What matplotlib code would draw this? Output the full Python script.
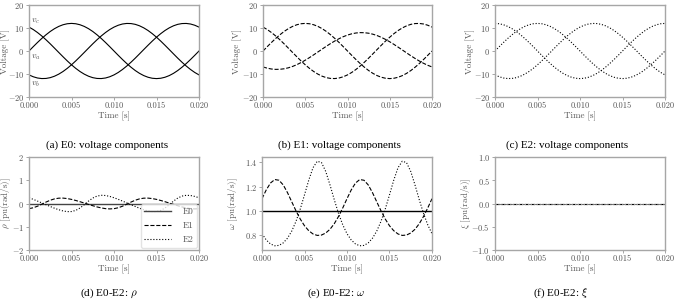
import matplotlib
matplotlib.use("Agg")
import matplotlib.pyplot as plt

plt.rcParams['font.family'] = ['cmr10', 'DejaVu Serif']
plt.rcParams['mathtext.fontset'] = 'cm'
plt.rcParams['axes.formatter.use_mathtext'] = True
plt.rcParams['axes.unicode_minus'] = True

# time samples [s]
t = [0.0000, 0.0005, 0.0010, 0.0015, 0.0020, 0.0025, 0.0030, 0.0035, 0.0040, 0.0045,
     0.0050, 0.0055, 0.0060, 0.0065, 0.0070, 0.0075, 0.0080, 0.0085, 0.0090, 0.0095,
     0.0100, 0.0105, 0.0110, 0.0115, 0.0120, 0.0125, 0.0130, 0.0135, 0.0140, 0.0145,
     0.0150, 0.0155, 0.0160, 0.0165, 0.0170, 0.0175, 0.0180, 0.0185, 0.0190, 0.0195,
     0.0200]

# phase a (same in E0, E1, E2)
va = [0.00, 1.88, 3.71, 5.45, 7.05, 8.49, 9.71, 10.69, 11.41, 11.85,
      12.00, 11.85, 11.41, 10.69, 9.71, 8.49, 7.05, 5.45, 3.71, 1.88,
      0.00, -1.88, -3.71, -5.45, -7.05, -8.49, -9.71, -10.69, -11.41, -11.85,
      -12.00, -11.85, -11.41, -10.69, -9.71, -8.49, -7.05, -5.45, -3.71, -1.88,
      0.00]
# phase b (E0, E2)
vb = [-10.39, -11.20, -11.74, -11.98, -11.93, -11.59, -10.96, -10.06, -8.92, -7.55,
      -6.00, -4.30, -2.49, -0.63, 1.25, 3.11, 4.88, 6.54, 8.03, 9.33,
      10.39, 11.20, 11.74, 11.98, 11.93, 11.59, 10.96, 10.06, 8.92, 7.55,
      6.00, 4.30, 2.49, 0.63, -1.25, -3.11, -4.88, -6.54, -8.03, -9.33,
      -10.39]
# phase c (E0, E1)
vc = [10.39, 9.33, 8.03, 6.54, 4.88, 3.11, 1.25, -0.63, -2.49, -4.30,
      -6.00, -7.55, -8.92, -10.06, -10.96, -11.59, -11.93, -11.98, -11.74, -11.20,
      -10.39, -9.33, -8.03, -6.54, -4.88, -3.11, -1.25, 0.63, 2.49, 4.30,
      6.00, 7.55, 8.92, 10.06, 10.96, 11.59, 11.93, 11.98, 11.74, 11.20,
      10.39]
# E1: reduced phase b
vb_e1 = [-6.93, -7.47, -7.83, -7.99, -7.95, -7.73, -7.31, -6.71, -5.95, -5.03,
         -4.00, -2.87, -1.66, -0.42, 0.83, 2.07, 3.25, 4.36, 5.35, 6.22,
         6.93, 7.47, 7.83, 7.99, 7.95, 7.73, 7.31, 6.71, 5.95, 5.03,
         4.00, 2.87, 1.66, 0.42, -0.83, -2.07, -3.25, -4.36, -5.35, -6.22,
         -6.93]
# E2: shifted phase c
vc_e2 = [12.00, 11.85, 11.41, 10.69, 9.71, 8.49, 7.05, 5.45, 3.71, 1.88,
         0.00, -1.88, -3.71, -5.45, -7.05, -8.49, -9.71, -10.69, -11.41, -11.85,
         -12.00, -11.85, -11.41, -10.69, -9.71, -8.49, -7.05, -5.45, -3.71, -1.88,
         0.00, 1.88, 3.71, 5.45, 7.05, 8.49, 9.71, 10.69, 11.41, 11.85,
         12.00]

rho_e0 = [0.0] * len(t)
rho_e1 = [-0.222, -0.183, -0.117, -0.031, 0.061, 0.141, 0.199, 0.229, 0.232, 0.212,
          0.177, 0.130, 0.077, 0.019, -0.039, -0.095, -0.147, -0.190, -0.221, -0.233,
          -0.222, -0.183, -0.117, -0.031, 0.061, 0.141, 0.199, 0.229, 0.232, 0.212,
          0.177, 0.130, 0.077, 0.019, -0.039, -0.095, -0.147, -0.190, -0.221, -0.233,
          -0.222]
rho_e2 = [0.247, 0.179, 0.104, 0.026, -0.052, -0.129, -0.203, -0.268, -0.320, -0.350,
          -0.346, -0.297, -0.195, -0.052, 0.103, 0.234, 0.319, 0.352, 0.344, 0.305,
          0.247, 0.179, 0.104, 0.026, -0.052, -0.129, -0.203, -0.268, -0.320, -0.350,
          -0.346, -0.297, -0.195, -0.052, 0.103, 0.234, 0.319, 0.352, 0.344, 0.305,
          0.247]

omega_e0 = [1.0] * len(t)
omega_e1 = [1.099, 1.172, 1.229, 1.258, 1.252, 1.213, 1.149, 1.073, 0.998, 0.930,
            0.874, 0.833, 0.806, 0.794, 0.797, 0.814, 0.845, 0.891, 0.951, 1.022,
            1.099, 1.172, 1.229, 1.258, 1.252, 1.213, 1.149, 1.073, 0.998, 0.930,
            0.874, 0.833, 0.806, 0.794, 0.797, 0.814, 0.845, 0.891, 0.951, 1.022,
            1.099]
omega_e2 = [0.808, 0.756, 0.723, 0.708, 0.711, 0.732, 0.771, 0.830, 0.911, 1.013,
            1.131, 1.253, 1.356, 1.410, 1.399, 1.325, 1.213, 1.091, 0.977, 0.882,
            0.808, 0.756, 0.723, 0.708, 0.711, 0.732, 0.771, 0.830, 0.911, 1.013,
            1.131, 1.253, 1.356, 1.410, 1.399, 1.325, 1.213, 1.091, 0.977, 0.882,
            0.808]

xi_e0 = [0.0] * len(t)
xi_e1 = [0.0] * len(t)
xi_e2 = [0.0] * len(t)

captions = ["(a) E0: voltage components", "(b) E1: voltage components",
            "(c) E2: voltage components", r"(d) E0-E2: $\rho$",
            r"(e) E0-E2: $\omega$", r"(f) E0-E2: $\xi$"]

W, H = 675, 304
TXT = '#555555'
SPINE = '#a6a6a6'
FS = 6.0      # tick labels
LFS = 6.5     # axis labels


def make_ax(fig, left, top, right, bottom, ylab_x):
    ax = fig.add_axes([left / W, 1 - bottom / H, (right - left) / W, (bottom - top) / H])
    for s in ax.spines.values():
        s.set_color(SPINE)
        s.set_linewidth(1.0)
    ax.tick_params(colors=SPINE, labelcolor=TXT, labelsize=FS, length=2.5, width=0.7, pad=1)
    ax.set_xlim(0, 0.02)
    ax.set_xticks([0.0, 0.005, 0.01, 0.015, 0.02])
    ax.set_xticklabels(["0.000", "0.005", "0.010", "0.015", "0.020"])
    ax.set_xlabel("Time [s]", fontsize=LFS, color=TXT, labelpad=1)
    # right edge of the y label, in pixels from the figure's left
    ax.yaxis.set_label_coords((ylab_x - left) / (right - left), 0.5)
    return ax


fig = plt.figure(figsize=(W / 100, H / 100), dpi=100)
lw = 0.8

# voltage panels
cols = [(29, 199, 10), (263, 432, 242), (495, 665, 475)]
volt_sets = [(va, vb, vc, '-'), (va, vb_e1, vc, '--'), (va, vb, vc_e2, ':')]
for (l, r, yl), (a, b, c, ls) in zip(cols, volt_sets):
    ax = make_ax(fig, l, 5, r, 97, yl)
    for y in (a, b, c):
        ax.plot(t, y, color='black', linestyle=ls, linewidth=lw)
    ax.set_ylim(-20, 20)
    ax.set_yticks([-20, -10, 0, 10, 20])
    ax.set_ylabel("Voltage [V]", fontsize=LFS, color=TXT)
    if ls == '-':
        ax.text(0.00025, 12.8, r"$v_c$", fontsize=LFS, color=TXT, va='center')
        ax.text(0.00025, -2.5, r"$v_a$", fontsize=LFS, color=TXT, va='center')
        ax.text(0.00025, -14.5, r"$v_b$", fontsize=LFS, color=TXT, va='center')

# rho
ax = make_ax(fig, 29, 157, 199, 250, 13)
ax.plot(t, rho_e0, color='#444444', linestyle='-', linewidth=1.0, label='E0')
ax.plot(t, rho_e1, color='black', linestyle='--', linewidth=lw, label='E1')
ax.plot(t, rho_e2, color='black', linestyle=':', linewidth=lw, label='E2')
ax.set_ylim(-2, 2)
ax.set_yticks([-2, -1, 0, 1, 2])
ax.set_ylabel(r"$\rho$ [pu(rad/s)]", fontsize=LFS, color=TXT)
leg = ax.legend(loc='lower right', fontsize=LFS, handlelength=3.0, framealpha=0.8,
                edgecolor='#dddddd', borderaxespad=0.25, labelspacing=0.6,
                handletextpad=1.2)
for txt in leg.get_texts():
    txt.set_color(TXT)

# omega
ax = make_ax(fig, 262, 157, 432, 250, 240)
ax.plot(t, omega_e0, color='black', linestyle='-', linewidth=1.0)
ax.plot(t, omega_e1, color='black', linestyle='--', linewidth=lw)
ax.plot(t, omega_e2, color='black', linestyle=':', linewidth=lw)
ax.set_yticks([0.8, 1.0, 1.2, 1.4])
ax.set_ylabel(r"$\omega$ [pu(rad/s)]", fontsize=LFS, color=TXT)

# xi
ax = make_ax(fig, 495, 157, 665, 250, 473)
ax.plot(t, xi_e0, color='#777777', linestyle='-', linewidth=lw)
ax.plot(t, xi_e1, color='black', linestyle='--', linewidth=lw)
ax.plot(t, xi_e2, color='#999999', linestyle=':', linewidth=lw)
ax.set_ylim(-1, 1)
ax.set_yticks([-1.0, -0.5, 0.0, 0.5, 1.0])
ax.set_ylabel(r"$\xi$ [pu(rad/s)]", fontsize=LFS, color=TXT)

# subfigure captions
cap_pos = [(107, 145), (339, 145), (567, 145), (109, 293), (336, 293), (561, 293)]
for (x, y), s in zip(cap_pos, captions):
    fig.text(x / W, 1 - y / H, s, ha='center', va='center', fontsize=8,
             family=['Liberation Serif', 'DejaVu Serif'])

fig.savefig("out.png", dpi=100)
